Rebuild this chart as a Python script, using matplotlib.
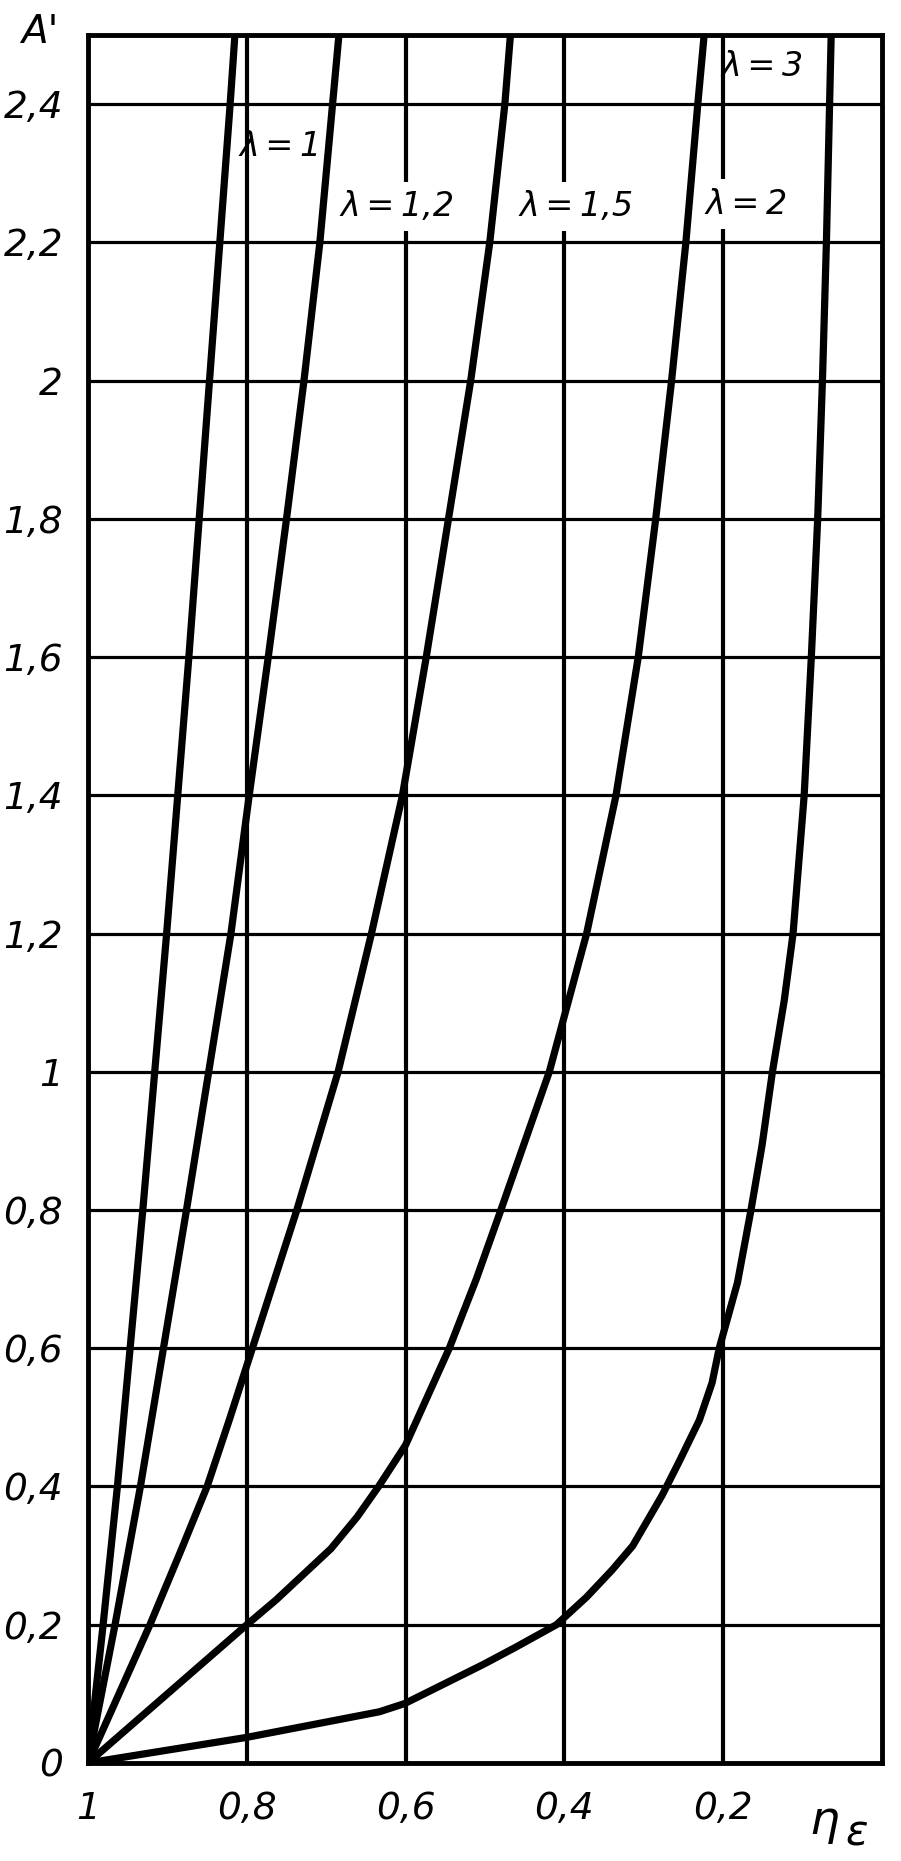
# -*- coding: UTF-8 -*-

"""A' against eta_e for several lambda, redrawn from a scanned chart
"""

import matplotlib
matplotlib.use( 'Agg' )
import matplotlib.pyplot as plt

#+++++++++++++++++++++++++++++++++++++++++++++++++++++++++++++++++++++++++++++#

A_STEP = [ 0, 0.2, 0.4, 0.6, 0.8, 1.0, 1.2, 1.4, 1.6, 1.8, 2.0, 2.2, 2.4, 2.5 ]

eta_lam_1  = [ 1.0, 0.981, 0.963, 0.947, 0.931, 0.916, 0.901, 0.887, 0.873,
               0.860, 0.847, 0.834, 0.821, 0.815 ]
eta_lam_12 = [ 1.0, 0.966, 0.934, 0.905, 0.876, 0.848, 0.820, 0.797, 0.773,
               0.750, 0.728, 0.708, 0.692, 0.684 ]

A_lam_15   = [ 0, 0.1, 0.2, 0.31, 0.4, 0.5, 0.6, 0.8, 1.0, 1.2, 1.4, 1.6, 1.8,
               2.0, 2.2, 2.4, 2.5 ]
eta_lam_15 = [ 1.0, 0.961, 0.922, 0.882, 0.850, 0.821, 0.793, 0.737, 0.685,
               0.643, 0.604, 0.574, 0.546, 0.518, 0.494, 0.475, 0.468 ]

A_lam_2   = [ 0, 0.2, 0.236, 0.31, 0.356, 0.4, 0.46, 0.6, 0.7, 0.8, 1.0, 1.2,
              1.4, 1.6, 1.8, 2.0, 2.2, 2.4, 2.5 ]
eta_lam_2 = [ 1.0, 0.800, 0.763, 0.694, 0.661, 0.634, 0.600, 0.545, 0.511,
              0.480, 0.419, 0.372, 0.335, 0.307, 0.285, 0.265, 0.247, 0.232,
              0.224 ]

A_lam_3   = [ 0, 0.037, 0.074, 0.086, 0.142, 0.167, 0.2, 0.24, 0.279, 0.314,
              0.387, 0.437, 0.496, 0.55, 0.6, 0.695, 0.8, 0.894, 1.0, 1.104,
              1.2, 1.4, 1.6, 1.8, 2.0, 2.2, 2.4, 2.5 ]
eta_lam_3 = [ 1.0, 0.800, 0.633, 0.601, 0.503, 0.462, 0.410, 0.372, 0.340,
              0.314, 0.277, 0.255, 0.230, 0.214, 0.205, 0.182, 0.165, 0.151,
              0.138, 0.123, 0.112, 0.098, 0.089, 0.081, 0.075, 0.070, 0.066,
              0.064 ]

CURVES = [ ( eta_lam_1, A_STEP ), ( eta_lam_12, A_STEP ),
           ( eta_lam_15, A_lam_15 ), ( eta_lam_2, A_lam_2 ),
           ( eta_lam_3, A_lam_3 ) ]

TS = '\u2009'
LABELS = [ 'λ' + TS + '=' + TS + '1', 'λ' + TS + '=' + TS + '1,2',
           'λ' + TS + '=' + TS + '1,5', 'λ' + TS + '=' + TS + '2',
           'λ' + TS + '=' + TS + '3' ]
LABEL_POS = [ ( 0.757, 2.338 ), ( 0.610, 2.252 ), ( 0.385, 2.252 ),
              ( 0.170, 2.255 ), ( 0.150, 2.455 ) ]
LABEL_BOX = [ False, True, True, True, False ]

Y_TICKS = [ 0, 0.2, 0.4, 0.6, 0.8, 1.0, 1.2, 1.4, 1.6, 1.8, 2.0, 2.2, 2.4 ]
Y_LABELS = [ '0', '0,2', '0,4', '0,6', '0,8', '1', '1,2', '1,4', '1,6', '1,8',
             '2', '2,2', '2,4' ]
X_TICKS = [ 1.0, 0.8, 0.6, 0.4, 0.2 ]
X_LABELS = [ '1', '0,8', '0,6', '0,4', '0,2' ]

#+++++++++++++++++++++++++++++++++++++++++++++++++++++++++++++++++++++++++++++#

plt.rcParams[ 'font.family' ] = [ 'DejaVu Sans' ]

fig = plt.figure( figsize = ( 9.01, 18.61 ), dpi = 100 )
ax = fig.add_axes( [ 0.0977, 0.0527, 0.8812, 0.9285 ] )

for eta, A in CURVES:
    ax.plot( eta, A, color = 'black', lw = 5.2, solid_joinstyle = 'round',
             solid_capstyle = 'butt', zorder = 4 )

for text, ( x, y ), box in zip( LABELS, LABEL_POS, LABEL_BOX ):
    kw = dict( ha = 'center', va = 'center', fontsize = 24, style = 'italic',
               zorder = 3 )
    if box:
        kw[ 'bbox' ] = dict( facecolor = 'white', edgecolor = 'none', pad = 6 )
    ax.text( x, y, text, **kw )

ax.set_xlim( 1, 0 )
ax.set_ylim( 0, 2.5 )
ax.set_xticks( X_TICKS )
ax.set_xticklabels( X_LABELS, fontsize = 27, style = 'italic' )
ax.set_yticks( Y_TICKS )
ax.set_yticklabels( Y_LABELS, fontsize = 27, style = 'italic' )
ax.tick_params( length = 0 )
ax.tick_params( axis = 'x', pad = 20 )
ax.tick_params( axis = 'y', pad = 18 )

ax.set_axisbelow( True )
ax.grid( axis = 'x', color = 'black', lw = 3 )
ax.grid( axis = 'y', color = 'black', lw = 2.3 )
for side in ax.spines.values():
    side.set_linewidth( 3.5 )

fig.text( 0.0444, 0.9828, "A'", fontsize = 28, style = 'italic',
          ha = 'center', va = 'center' )
fig.text( 0.9145, 0.021, 'η', fontsize = 34, style = 'italic',
          ha = 'center', va = 'center' )
fig.text( 0.951, 0.0150, 'ε', fontsize = 30, style = 'italic',
          ha = 'center', va = 'center' )

fig.savefig( 'out.png', dpi = 100 )

#+++++++++++++++++++++++++++++++++++++++++++++++++++++++++++++++++++++++++++++#
